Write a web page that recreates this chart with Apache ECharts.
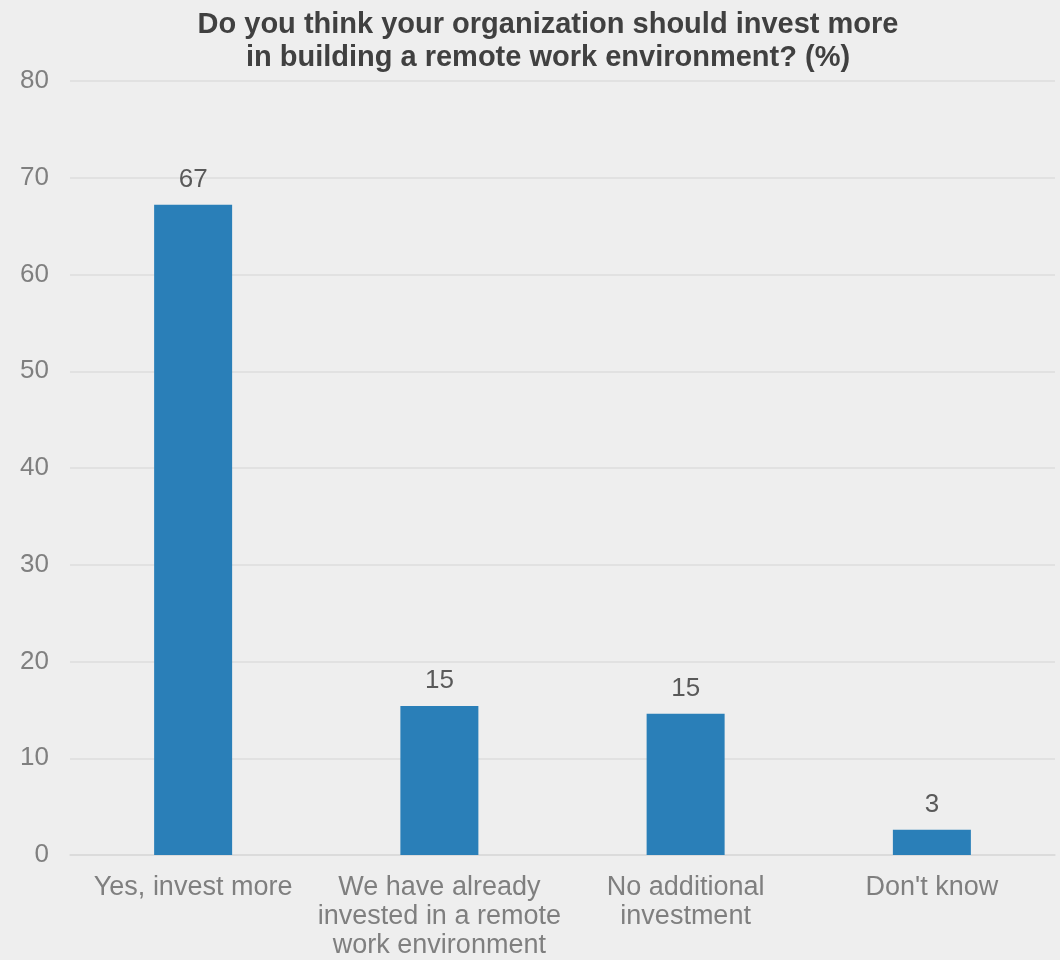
<!DOCTYPE html>
<html><head><meta charset="utf-8">
<script src="https://cdn.jsdelivr.net/npm/echarts@6/dist/echarts.min.js"></script>
<style>html,body{margin:0;padding:0;background:#eeeeee;}#c{width:1060px;height:960px;}</style>
</head><body><div id="c"></div>
<script>
const categories = ["Yes, invest more", "We have already\ninvested in a remote\nwork environment", "No additional\ninvestment", "Don't know"];
const values = [67.2, 15.4, 14.6, 2.6];
const yTicks = [0, 10, 20, 30, 40, 50, 60, 70, 80];
const titleText = "Do you think your organization should invest more\nin building a remote work environment? (%)";

const chart = echarts.init(document.getElementById('c'), null, {renderer: 'canvas'});
chart.setOption({
  backgroundColor: '#eeeeee',
  animation: false,
  title: {
    text: titleText, left: 543, top: 3, textAlign: 'center',
    textStyle: {fontFamily: 'Liberation Sans, Arial', fontWeight: 'bold', fontSize: 29, color: '#404040', lineHeight: 33}
  },
  grid: {left: 70, right: 5, top: 81, bottom: 104, containLabel: false},
  xAxis: {
    type: 'category', data: categories,
    axisLine: {show: true, lineStyle: {color: '#d9d9d9', width: 1.5}},
    axisTick: {show: false},
    axisLabel: {fontFamily: 'Liberation Sans, Arial', fontSize: 27, color: '#7f7f7f', lineHeight: 29, margin: 18, interval: 0}
  },
  yAxis: {
    type: 'value', min: yTicks[0], max: yTicks[yTicks.length - 1], interval: 10,
    axisLine: {show: false}, axisTick: {show: false},
    splitLine: {lineStyle: {color: '#dcdcdc', width: 1.5}},
    axisLabel: {fontFamily: 'Liberation Sans, Arial', fontSize: 26, color: '#7f7f7f', margin: 21}
  },
  series: [{
    type: 'bar', data: values, barWidth: 78,
    itemStyle: {color: '#2a7fb8'},
    label: {show: true, position: 'top', distance: 12, fontFamily: 'Liberation Sans, Arial', fontSize: 26, color: '#595959',
      formatter: p => Math.round(p.value)}
  }]
});
</script></body></html>
